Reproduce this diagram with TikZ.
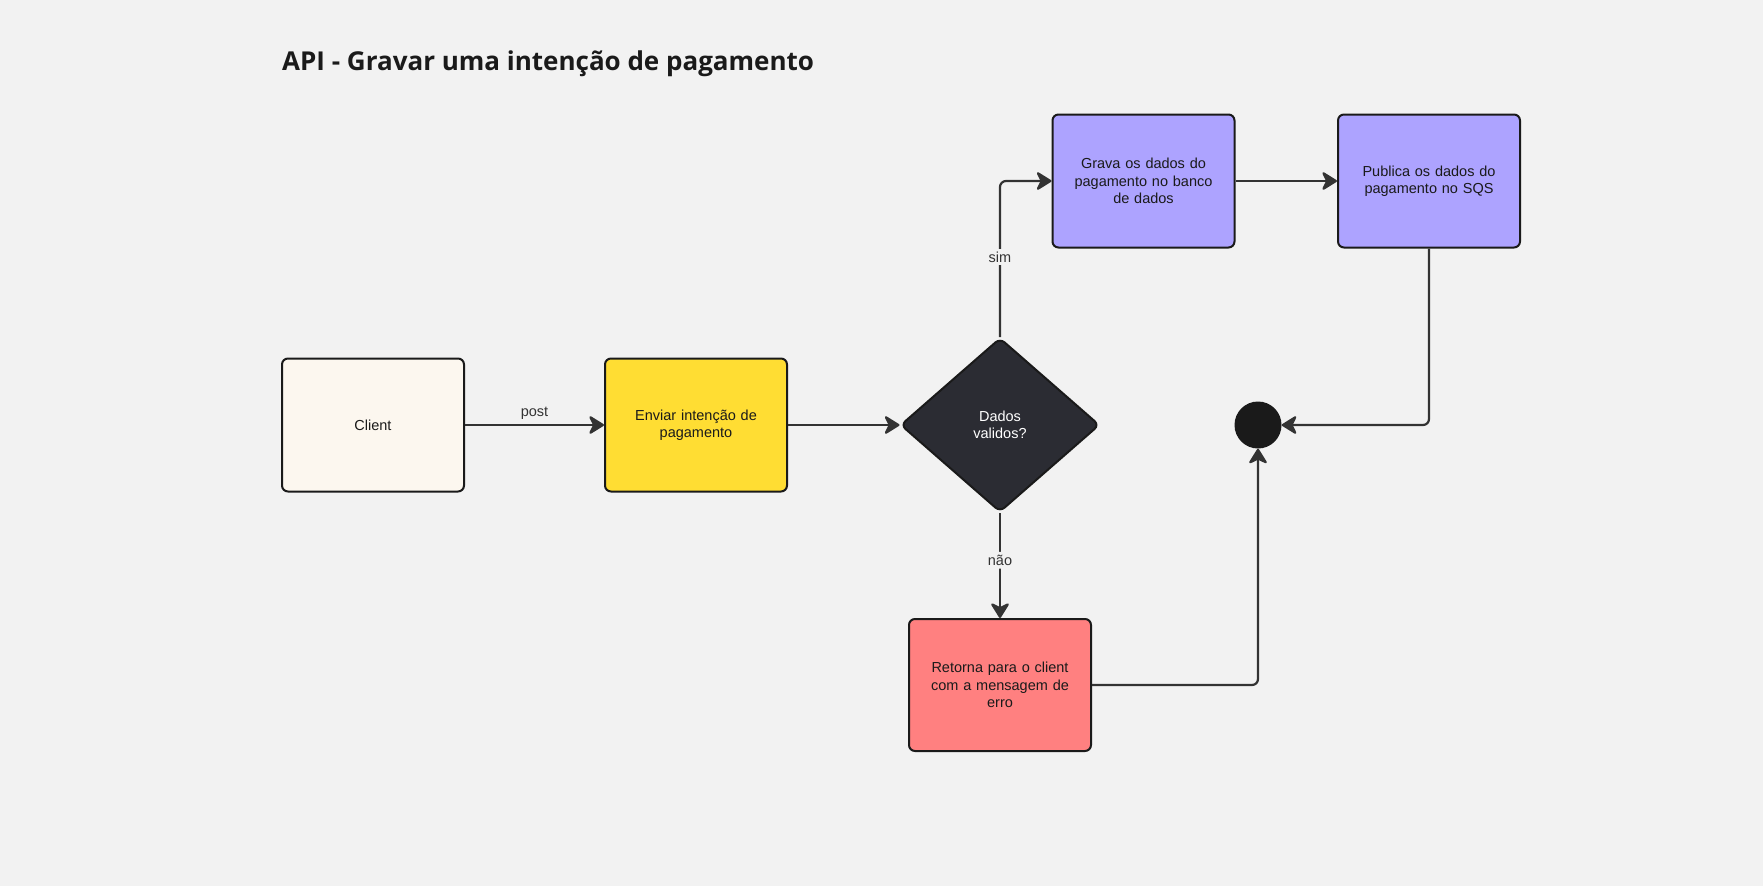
\documentclass[tikz,border=0pt]{standalone}
\usepackage{fontspec}
\setmainfont{Liberation Sans}
\newfontfamily\titlefont{Open Sans}
\usetikzlibrary{shapes.geometric,arrows.meta}
\definecolor{bg}{HTML}{F2F2F2}
\definecolor{edge}{HTML}{1A1A1A}
\definecolor{conn}{HTML}{333333}
\definecolor{cream}{HTML}{FCF7EF}
\definecolor{yel}{HTML}{FFDD33}
\definecolor{darkd}{HTML}{2B2C33}
\definecolor{purp}{HTML}{ADA3FF}
\definecolor{redb}{HTML}{FF8080}
\tikzset{
  procbox/.style={draw=edge, line width=2pt, rounded corners=6pt, minimum width=182pt, minimum height=133pt, inner sep=4pt, align=center, text width=160pt, font=\fontsize{14.5}{17.5}\selectfont, text=edge},
  decis/.style={diamond, draw=edge, line width=2pt, rounded corners=6pt, fill=darkd, minimum width=199pt, minimum height=174pt, aspect=1.14, inner sep=0pt, align=center, text=white, font=\fontsize{14.5}{17.5}\selectfont},
  endpt/.style={circle, fill=edge, minimum size=47pt, inner sep=0pt},
  conline/.style={draw=conn, line width=2.2pt, rounded corners=6pt, -{Stealth[length=17pt,width=21pt,inset=5pt,round]}},
  lbl/.style={font=\fontsize{14.5}{17}\selectfont, text=conn, fill=bg, inner sep=3pt}
}
\begin{document}
\begin{tikzpicture}[x=1pt,y=-1pt]
\useasboundingbox (0,0) rectangle (1763,886);
\fill[bg] (0,0) rectangle (1763,886);
\node[anchor=base west, font=\titlefont\bfseries\fontsize{26}{30}\selectfont, text=edge, inner sep=0pt] (title) at (282,70) {API - Gravar uma intenção de pagamento};

\node[procbox, fill=cream] (client) at (373,425) {Client};
\node[procbox, fill=yel] (enviar) at (696,425) {Enviar intenção de\\pagamento};
\node[decis] (dia) at (1000,425) {Dados\\validos?};
\node[procbox, fill=purp] (grava) at (1143.5,181) {Grava os dados do\\pagamento no banco\\de dados};
\node[procbox, fill=purp] (publica) at (1429,181) {Publica os dados do\\pagamento no SQS};
\node[endpt] (fim) at (1258,425) {};
\node[procbox, fill=redb, minimum height=132pt] (retorna) at (1000,685) {Retorna para o client\\com a mensagem de\\erro};

\draw[conline] (client.east) -- node[lbl, above=1pt, fill=none] {post} (enviar.west);
\draw[conline] (enviar.east) -- (dia.west);
\draw[conline] (dia.north) |- (grava.west);
\node[lbl] (simlbl) at (1000,257) {sim};
\draw[conline] (grava.east) -- (publica.west);
\draw[conline] (publica.south) |- (fim.east);
\draw[conline] (dia.south) -- node[lbl, pos=0.45] {não} (retorna.north);
\draw[conline] (retorna.east) -| (fim.south);
\end{tikzpicture}
\end{document}
